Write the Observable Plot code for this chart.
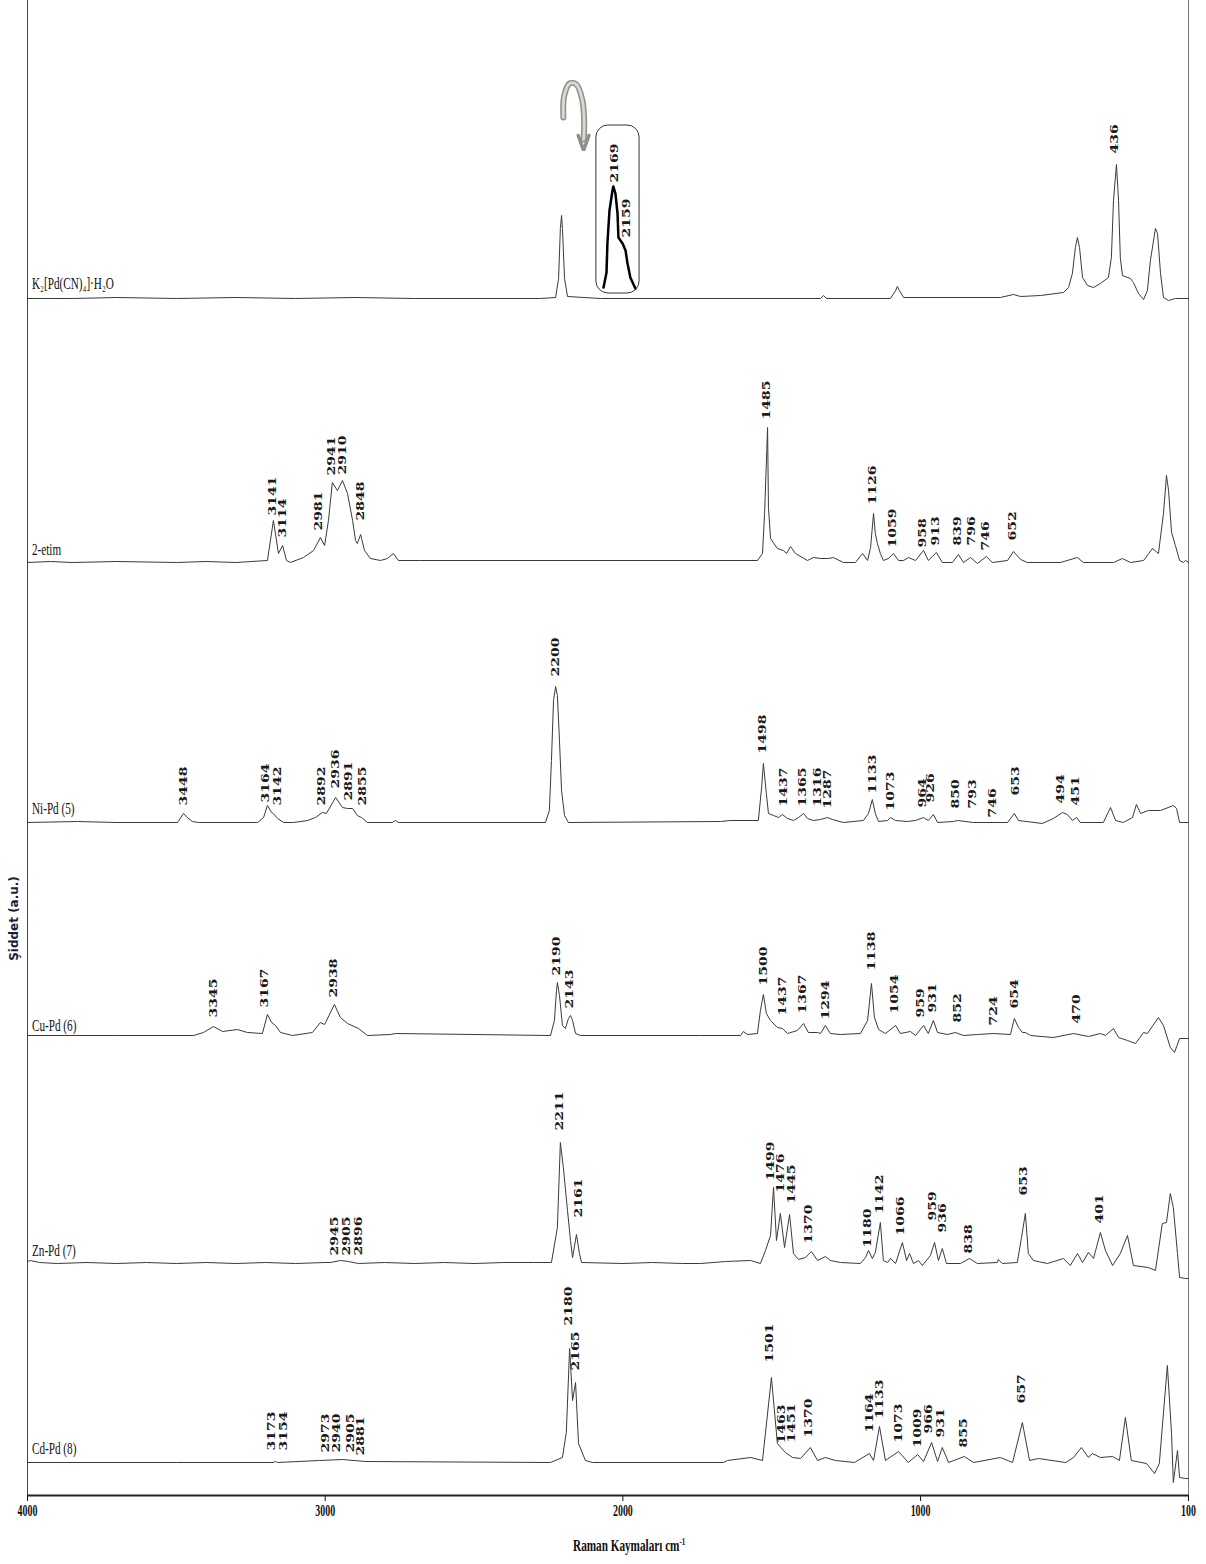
<!DOCTYPE html>
<html><head><meta charset="utf-8">
<script src="https://cdn.jsdelivr.net/npm/d3@7"></script>
<script src="https://cdn.jsdelivr.net/npm/@observablehq/plot@0.6"></script>
<style>
body{margin:0;background:#fff;}
#xtitle{width:1206px;box-sizing:border-box;padding-left:52px;padding-top:7px;text-align:center;line-height:18px;}
#xtitle span{display:inline-block;transform:scaleX(0.7);transform-origin:center;font:bold 16px "Liberation Serif",serif;color:#111;}
#xtitle sup{font-size:10px;vertical-align:6px;line-height:0;}
</style></head><body>
<div id="chart"></div>
<div id="xtitle"><span>Raman Kaymaları cm<sup>-1</sup></span></div>
<script>
// x-axis ticks (Raman shift, cm-1)
const xTicks = [4000, 3000, 2000, 1000, 100];
// spectrum names and stacking offsets (a.u.)
const names = ["K₂[Pd(CN)₄]·H₂O", "2-etim", "Ni-Pd (5)", "Cu-Pd (6)", "Zn-Pd (7)", "Cd-Pd (8)"];
const offsets = [1197, 933, 673, 460, 233, 33];
const nameY = [1207, 941, 682, 465, 240, 42];

// spectra: [wavenumber, intensity above own baseline]
const k2 = [[4000,0],[3850,0],[3700,1],[3500,0],[3300,1],[3100,0],[2900,1],[2700,0],[2277,0],[2226,1],[2216,20],[2210,70],[2206,83],[2203,70],[2196,20],[2186,2],[2075,0],[1336,0],[1326,3],[1316,0],[1101,0],[1084,8],[1078,12],[1071,8],[1057,1],[732,1],[688,4],[664,2],[597,3],[520,6],[503,11],[490,25],[480,51],[473,61],[466,51],[456,21],[439,13],[419,11],[396,15],[369,21],[359,41],[352,98],[342,134],[335,98],[329,41],[322,23],[295,20],[285,16],[268,5],[251,-1],[238,8],[228,38],[211,70],[204,65],[194,25],[184,1],[167,-2],[144,0],[114,0],[100,0]];
const etim = [[4000,0],[3923,1],[3850,0],[3700,1],[3500,0],[3400,1],[3300,0],[3194,2],[3174,42],[3157,9],[3143,17],[3130,2],[3117,0],[3073,5],[3039,12],[3016,25],[3002,17],[2989,42],[2976,80],[2959,72],[2942,82],[2925,69],[2908,42],[2898,22],[2892,19],[2881,28],[2868,12],[2848,4],[2814,2],[2791,4],[2771,9],[2754,2],[2680,2],[1548,2],[1531,9],[1524,49],[1514,135],[1511,55],[1504,24],[1481,14],[1461,12],[1450,9],[1437,16],[1420,9],[1380,2],[1360,5],[1336,4],[1309,4],[1293,5],[1259,0],[1219,0],[1195,9],[1178,2],[1168,15],[1158,49],[1152,29],[1145,19],[1135,9],[1125,2],[1108,4],[1091,9],[1074,2],[1057,2],[1041,5],[1017,2],[990,12],[974,2],[947,10],[927,0],[893,0],[873,8],[856,0],[832,5],[809,-1],[779,6],[759,0],[708,2],[688,11],[664,3],[641,0],[530,0],[473,5],[453,0],[352,0],[322,4],[295,0],[251,2],[221,14],[201,9],[184,49],[174,87],[167,72],[157,30],[144,17],[130,2],[117,0],[110,2],[100,0]];
const ni = [[4000,0],[3832,1],[3700,0],[3496,0],[3476,9],[3463,5],[3446,1],[3426,0],[3227,0],[3207,5],[3194,17],[3180,10],[3174,9],[3160,4],[3140,0],[3106,0],[3059,2],[3033,5],[3009,10],[2996,9],[2965,25],[2942,15],[2925,14],[2908,14],[2892,7],[2878,5],[2858,0],[2774,0],[2764,2],[2754,0],[2260,0],[2247,12],[2240,62],[2233,122],[2226,136],[2220,127],[2213,82],[2206,32],[2196,7],[2183,0],[1672,1],[1639,2],[1545,2],[1534,35],[1528,59],[1518,29],[1511,9],[1494,7],[1477,5],[1464,8],[1447,4],[1427,2],[1410,5],[1393,9],[1380,4],[1360,2],[1336,3],[1313,5],[1296,3],[1259,0],[1192,2],[1175,9],[1162,23],[1152,9],[1141,1],[1111,2],[1101,5],[1084,2],[1044,1],[1017,2],[990,5],[974,2],[957,8],[943,0],[890,1],[876,2],[822,0],[708,0],[685,9],[671,2],[591,-1],[554,4],[523,10],[507,8],[490,2],[476,5],[463,0],[386,0],[362,15],[345,2],[319,0],[288,5],[275,18],[261,9],[235,12],[194,12],[151,17],[140,14],[130,0],[117,0],[100,0]];
const cu = [[4000,0],[3700,0],[3442,0],[3409,3],[3375,9],[3345,4],[3295,6],[3261,3],[3211,2],[3194,21],[3180,13],[3167,10],[3150,3],[3110,0],[3043,3],[3016,13],[3002,11],[2969,31],[2949,18],[2925,12],[2888,7],[2858,0],[2781,1],[2764,2],[2243,0],[2230,15],[2223,45],[2220,53],[2213,40],[2203,10],[2193,7],[2183,17],[2176,20],[2169,15],[2159,2],[2142,0],[1739,0],[1605,0],[1595,4],[1582,1],[1548,2],[1538,25],[1528,41],[1518,22],[1504,15],[1481,8],[1464,7],[1447,2],[1414,5],[1393,12],[1377,3],[1346,3],[1336,2],[1320,10],[1303,2],[1269,1],[1202,2],[1178,15],[1165,52],[1155,18],[1141,6],[1118,2],[1084,10],[1068,2],[1034,4],[1017,0],[990,10],[974,2],[957,15],[943,3],[910,1],[883,3],[856,0],[809,1],[755,2],[698,1],[685,17],[671,8],[658,3],[648,3],[631,0],[554,-2],[486,2],[436,-1],[396,2],[379,0],[352,7],[335,-2],[305,-5],[278,-8],[251,3],[238,2],[201,18],[184,10],[161,-12],[147,-17],[130,-3],[110,-3],[100,-3]];
const zn = [[4000,1],[3990,2],[3960,0],[3900,-1],[3800,0],[3700,-1],[3600,0],[3500,-1],[3400,0],[3300,-1],[3200,0],[3100,-1],[3000,0],[2982,0],[2949,2],[2922,1],[2888,-1],[2800,0],[2700,-1],[2600,0],[2500,-1],[2400,0],[2300,0],[2240,0],[2220,35],[2210,120],[2200,95],[2186,52],[2176,22],[2169,5],[2156,28],[2146,9],[2139,0],[2000,-1],[1900,0],[1800,-1],[1739,-1],[1655,1],[1571,2],[1538,-1],[1521,12],[1504,27],[1494,75],[1484,22],[1471,49],[1457,15],[1440,48],[1427,9],[1410,3],[1387,5],[1367,11],[1346,2],[1320,6],[1303,2],[1269,0],[1202,-1],[1185,5],[1175,12],[1162,4],[1152,10],[1135,40],[1125,2],[1111,0],[1101,4],[1084,-1],[1061,20],[1047,2],[1037,9],[1024,-1],[1007,2],[994,-3],[967,7],[953,20],[940,2],[927,14],[913,-1],[866,-1],[836,4],[809,-1],[742,0],[739,3],[725,-1],[675,0],[661,25],[648,49],[638,9],[621,2],[574,-1],[520,4],[497,-3],[473,9],[456,0],[436,10],[419,4],[396,30],[379,12],[355,-3],[329,9],[305,27],[285,-3],[235,-5],[211,-8],[188,39],[174,40],[161,69],[151,55],[137,9],[130,-15],[110,-16],[100,-16]];
const cd = [[4000,0],[3500,0],[3174,0],[3167,1],[3160,0],[3019,2],[2942,3],[2865,1],[2243,0],[2203,5],[2190,30],[2179,114],[2169,62],[2159,80],[2149,19],[2126,2],[2102,0],[1662,0],[1649,2],[1571,5],[1531,2],[1501,85],[1481,19],[1454,10],[1430,5],[1403,4],[1370,15],[1346,2],[1320,5],[1286,2],[1222,0],[1172,9],[1158,2],[1138,36],[1118,2],[1074,11],[1041,0],[1010,8],[990,1],[963,20],[943,1],[927,15],[906,0],[853,6],[822,0],[732,5],[691,0],[658,40],[634,2],[604,4],[513,0],[486,5],[460,15],[436,5],[423,9],[396,5],[355,6],[332,2],[312,45],[292,2],[241,-1],[214,-11],[198,-1],[171,97],[157,29],[151,-20],[137,12],[130,-15],[110,-16],[100,-16]];

// inset (magnified CN band of K2[Pd(CN)4]) and curved arrow
const insetBox = {x1: 2089, x2: 1944, y1: 1202, y2: 1370};
const insetTrace = [[2065,1208],[2055,1223],[2052,1252],[2045,1285],[2035,1305],[2032,1309],[2025,1302],[2018,1282],[2015,1258],[2001,1252],[1991,1245],[1985,1233],[1975,1218],[1958,1207]];
const arrowPts = [[2200,1378],[2197,1400],[2179,1412],[2156,1411],[2136,1395],[2130,1372],[2132,1356]];
const arrowHead = [[2150,1360],[2132,1345],[2114,1360]];

// peak labels: [text, wavenumber position, label base]
const k2Labels = [["2169",2028,1313],["2159",1988,1258],["436",349,1342]];
const etimLabels = [["3141",3177,980],["3114",3143,958],["2981",3023,965],["2941",2979,1020],["2910",2942,1021],["2848",2881,975],["1485",1518,1076],["1126",1162,991],["1059",1094,948],["958",994,948],["913",950,950],["839",876,950],["796",829,950],["746",782,945],["652",691,955]];
const niLabels = [["3448",3476,690],["3164",3201,693],["3142",3160,690],["2892",3012,690],["2936",2965,707],["2891",2922,695],["2855",2875,690],["2200",2226,819],["1498",1531,742],["1437",1461,689],["1365",1397,689],["1316",1346,689],["1287",1313,687],["1133",1162,702],["1073",1101,685],["964",994,688],["926",967,693],["850",883,687],["793",826,687],["746",759,678],["653",681,700],["494",530,692],["451",480,690]];
const cuLabels = [["3345",3375,478],["3167",3204,488],["2938",2972,498],["2190",2223,520],["2143",2179,487],["1500",1528,510],["1437",1464,480],["1367",1397,482],["1294",1320,476],["1138",1165,525],["1054",1088,482],["959",1000,478],["931",960,483],["852",876,473],["724",755,470],["654",685,487],["470",476,472]];
const znLabels = [["2945",2969,240],["2905",2928,240],["2896",2888,240],["2211",2213,365],["2161",2149,278],["1499",1504,315],["1476",1471,303],["1445",1434,292],["1370",1377,252],["1180",1178,248],["1142",1138,282],["1066",1068,260],["959",960,275],["936",927,263],["838",839,242],["653",654,300],["401",399,272]];
const cdLabels = [["3173",3180,45],["3154",3140,45],["2973",2999,43],["2940",2962,43],["2905",2915,43],["2881",2881,40],["2180",2183,170],["2165",2159,125],["1501",1508,133],["1463",1467,52],["1451",1434,53],["1370",1377,58],["1164",1172,63],["1133",1138,77],["1073",1074,53],["1009",1010,48],["966",974,62],["931",933,58],["855",856,48],["657",661,92]];

const yLabel = "Şiddet (a.u.)";

const spectra = [k2, etim, ni, cu, zn, cd];
const rows = spectra.flatMap((s, i) => s.map(([wn, h]) => ({wn, y: offsets[i] + h, s: i})));
const labelRows = [k2Labels, etimLabels, niLabels, cuLabels, znLabels, cdLabels].flat().map(([t, wn, y]) => ({t, wn, y}));
const nameRows = names.map((n, i) => ({n, wn: 3985, y: nameY[i]}));
const peakTexts = new Set(labelRows.map(d => d.t));
const tickTexts = new Set(xTicks.map(String));

const chart = Plot.plot({
  width: 1206, height: 1530,
  marginLeft: 27, marginRight: 18, marginTop: 0, marginBottom: 35,
  style: {fontFamily: "'Liberation Serif', serif", fontSize: "15px", color: "#111", background: "#fff"},
  x: {domain: [4000, 100], ticks: xTicks, tickFormat: () => "", tickSize: 6, tickPadding: 0, label: null},
  y: {domain: [0, 1495], axis: null},
  marks: [
    Plot.ruleX([4000], {stroke: "#444"}),
    Plot.ruleX([100], {stroke: "#777"}),
    Plot.ruleY([0], {stroke: "#222", strokeWidth: 2}),
    Plot.line(rows, {x: "wn", y: "y", z: "s", stroke: "#3a3a3a", strokeWidth: 1}),
    Plot.rect([insetBox], {x1: "x1", x2: "x2", y1: "y1", y2: "y2", fill: "none", stroke: "#333", strokeWidth: 1, rx: 12}),
    Plot.line(insetTrace, {x: d => d[0], y: d => d[1], stroke: "#000", strokeWidth: 2.5}),
    Plot.line(arrowPts, {x: d => d[0], y: d => d[1], stroke: "#8f8f88", strokeWidth: 6, curve: "catmull-rom"}),
    Plot.line(arrowPts, {x: d => d[0], y: d => d[1], stroke: "#d8d8d2", strokeWidth: 3, curve: "catmull-rom"}),
    Plot.line(arrowHead, {x: d => d[0], y: d => d[1], stroke: "#8f8f88", strokeWidth: 3.5, strokeLinejoin: "miter"}),
    Plot.text(labelRows, {x: "wn", y: "y", text: "t", rotate: -90, textAnchor: "start", lineAnchor: "middle", fontFamily: "DejaVu Serif", fontWeight: "bold", fontSize: 14, fill: "#1a1a1a"}),
    Plot.text(nameRows, {x: "wn", y: "y", text: "n", textAnchor: "start", lineAnchor: "bottom", fontFamily: "Liberation Serif", fontSize: 16, fill: "#111"}),
    // x tick labels, placed just below the frame
    Plot.text(xTicks, {x: d => d, text: d => String(d), frameAnchor: "bottom", dy: 20, fontFamily: "Liberation Serif", fontWeight: "bold", fontSize: 16, fill: "#111"}),
    Plot.text([{t: yLabel, wn: 4046, y: 577}], {x: "wn", y: "y", text: "t", rotate: -90, textAnchor: "middle", lineAnchor: "middle", fontFamily: "DejaVu Sans", fontWeight: "bold", fontSize: 12, fill: "#1b1b3a"})
  ]
});

// the original figure is horizontally compressed: narrow the glyphs the same way
d3.select(chart).selectAll("text").each(function() {
  const el = d3.select(this);
  const txt = this.textContent;
  const tr = el.attr("transform") || "";
  const rotated = tr.includes("rotate");
  if (rotated && peakTexts.has(txt)) el.attr("transform", tr + " scale(1,0.78)");
  else if (!rotated && names.includes(txt)) el.attr("transform", tr + " scale(0.7,1)");
  else if (!rotated && tickTexts.has(txt)) el.attr("transform", tr + " scale(0.62,1)");
});
document.getElementById("chart").appendChild(chart);
</script></body></html>
